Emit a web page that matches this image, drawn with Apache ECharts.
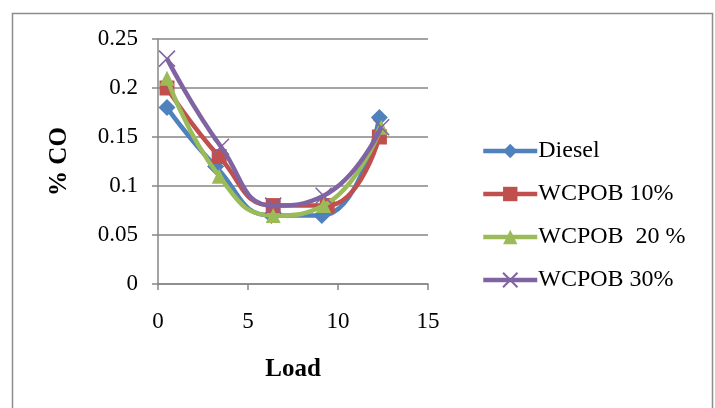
<!DOCTYPE html>
<html>
<head>
<meta charset="utf-8">
<script src="https://cdn.jsdelivr.net/npm/echarts@6/dist/echarts.min.js"></script>
<style>html,body{margin:0;padding:0;background:#fff}#c{width:715px;height:408px}</style>
</head>
<body>
<div id="c"></div>
<script>
var seriesNames = ['Diesel', 'WCPOB 10%', 'WCPOB  20 %', 'WCPOB 30%'];
var dieselX = [0.5, 3.2, 6.3, 9.1, 12.3];
var dieselY = [0.18, 0.12, 0.07, 0.07, 0.17];
var w10X = [0.5, 3.4, 6.4, 9.4, 12.3];
var w10Y = [0.20, 0.13, 0.08, 0.08, 0.15];
var w20X = [0.5, 3.4, 6.4, 9.2, 12.4];
var w20Y = [0.21, 0.11, 0.07, 0.08, 0.16];
var w30X = [0.5, 3.5, 6.4, 9.2, 12.4];
var w30Y = [0.23, 0.14, 0.08, 0.09, 0.16];
var colors = ['#4F81BD', '#C0504D', '#9BBB59', '#8064A2'];
var symbols = ['diamond', 'rect', 'triangle', 'path://M0,0L10,10M10,0L0,10'];
var xs = [dieselX, w10X, w20X, w30X];
var ys = [dieselY, w10Y, w20Y, w30Y];

function pairs(a, b) { return a.map(function (v, i) { return [v, b[i]]; }); }

var font = 'Liberation Serif';
var chart = echarts.init(document.getElementById('c'));
var series = seriesNames.map(function (n, i) {
  var s = {
    name: n, type: 'line', data: pairs(xs[i], ys[i]),
    smooth: 0.5,
    symbol: symbols[i], symbolSize: i === 3 ? 16 : (i === 0 ? 17 : 15),
    color: colors[i],
    lineStyle: { width: 4.5, color: colors[i] },
    itemStyle: { color: colors[i] },
    z: 2 + i
  };
  if (i === 3) { s.itemStyle = { color: colors[i], borderColor: colors[i], borderWidth: 1.5 }; }
  return s;
});
chart.setOption({
  animation: false,
  textStyle: { fontFamily: font },
  graphic: [{ type: 'rect', shape: { x: 12.5, y: 13.5, width: 700, height: 420 }, style: { fill: 'none', stroke: '#8c8c8c', lineWidth: 1.5 }, silent: true }],
  grid: { left: 158, top: 39, width: 270, height: 245 },
  xAxis: {
    type: 'value', min: 0, max: 15, interval: 5,
    name: 'Load', nameLocation: 'middle', nameGap: 73,
    nameTextStyle: { fontFamily: font, fontSize: 25, fontWeight: 'bold', color: '#000' },
    axisLine: { show: true, onZero: false, lineStyle: { color: '#868686', width: 1.5 } },
    axisTick: { show: true, inside: false, length: 6, lineStyle: { color: '#868686', width: 1.5 } },
    axisLabel: { fontFamily: font, fontSize: 23, color: '#000', margin: 26 },
    splitLine: { show: false }
  },
  yAxis: {
    type: 'value', min: 0, max: 0.25, interval: 0.05,
    name: '% CO', nameLocation: 'middle', nameGap: 86,
    nameTextStyle: { fontFamily: font, fontSize: 25, fontWeight: 'bold', color: '#000' },
    axisLine: { show: true, lineStyle: { color: '#868686', width: 1.5 } },
    axisTick: { show: true, inside: false, length: 6, lineStyle: { color: '#868686', width: 1.5 } },
    axisLabel: { fontFamily: font, fontSize: 23, color: '#000', margin: 20 },
    splitLine: { show: true, lineStyle: { color: '#868686', width: 1.5 } }
  },
  legend: {
    orient: 'vertical', left: 476, top: 134, itemGap: 19, itemWidth: 54, itemHeight: 18,
    lineStyle: { width: 4.5 },
    textStyle: { fontFamily: font, fontSize: 24, color: '#000', padding: [0, 0, 0, -4] },
    data: seriesNames
  },
  series: series
});
</script>
</body>
</html>
